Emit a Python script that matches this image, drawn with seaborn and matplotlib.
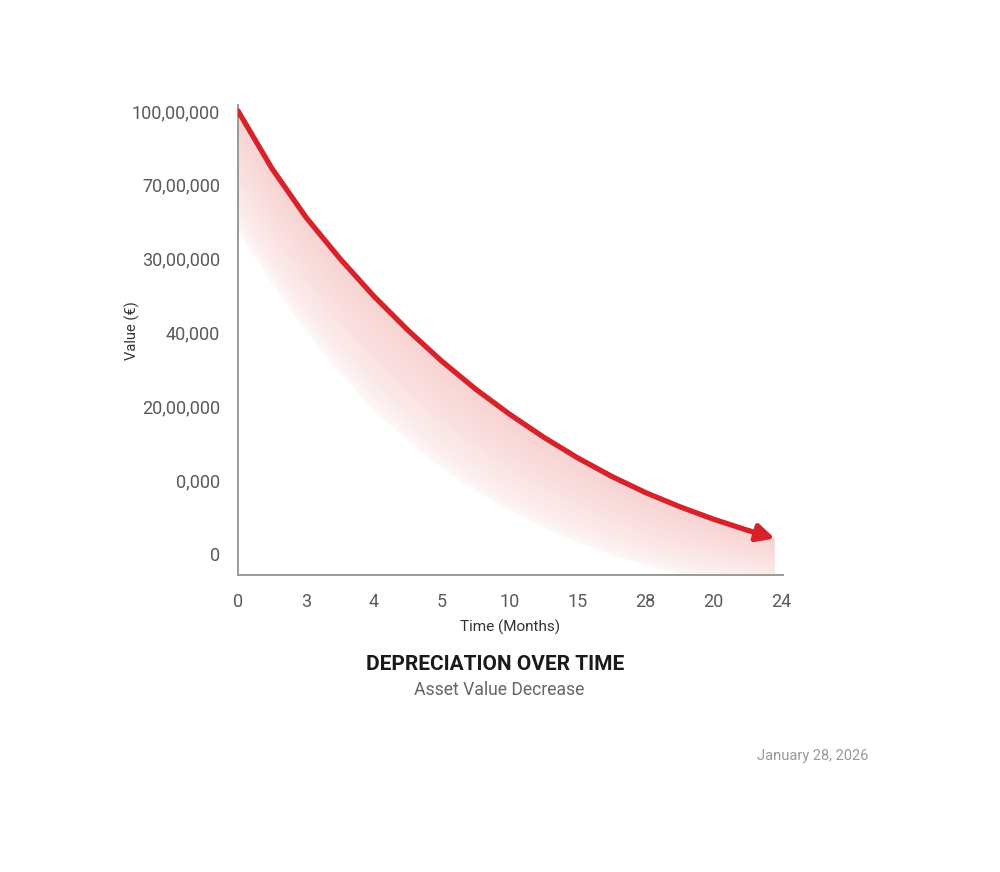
import numpy as np
import pandas as pd
import seaborn as sns
import matplotlib.pyplot as plt

# tick labels as printed on the chart (evenly spaced positions)
x_labels = ["0", "3", "4", "5", "10", "15", "28", "20", "24"]
y_labels = ["0", "0,000", "20,00,000", "40,000", "30,00,000", "70,00,000", "100,00,000"]

# curve, in tick-position units
time_pos = [0, 0.5, 1, 1.5, 2, 2.5, 3, 3.5, 4, 4.5, 5, 5.5, 6, 6.5, 7, 7.5, 7.9]
value_pos = [6.0, 5.22, 4.56, 4.00, 3.49, 3.03, 2.61, 2.23, 1.89, 1.58, 1.30, 1.05, 0.83, 0.64, 0.47, 0.32, 0.21]
band_low = [4.35, 3.65, 3.01, 2.44, 1.94, 1.52, 1.16, 0.85, 0.58, 0.35, 0.15, -0.02, -0.16, -0.27, -0.35, -0.41, -0.44]

df = pd.DataFrame({"t": time_pos, "v": value_pos, "lo": band_low})
red = "#d62228"

sns.set_theme(style="white")
plt.rcParams["font.family"] = ["Roboto", "DejaVu Sans"]

fig = plt.figure(figsize=(10, 8.72), dpi=100, facecolor="white")
ax = fig.add_axes([0.238, 0.3406, 0.545, 0.539])

# gradient band under the curve
band = ax.fill_between(df["t"], df["lo"], df["v"], color="none", lw=0)
gx = np.linspace(0, 7.9, 400)
gy = np.linspace(-0.5, 6.1, 400)
GX, GY = np.meshgrid(gx, gy)
up = np.interp(GX, df["t"], df["v"])
lo = np.interp(GX, df["t"], df["lo"])
frac = np.clip((GY - lo) / (up - lo), 0, 1)
rgba = np.zeros(GX.shape + (4,))
rgba[..., 0] = 0.88
rgba[..., 1] = 0.19
rgba[..., 2] = 0.19
rgba[..., 3] = 0.03 + 0.19 * frac ** 0.7
im = ax.imshow(rgba, extent=(0, 7.9, -0.5, 6.1), origin="lower", aspect="auto", zorder=1)
im.set_clip_path(band.get_paths()[0], transform=ax.transData)
im.set_clip_box(None)

# main curve with arrow at the end
sns.lineplot(data=df.iloc[:-1], x="t", y="v", color=red, lw=3.8, ax=ax, zorder=3,
             solid_capstyle="round", solid_joinstyle="round")
ax.annotate("", xy=(df["t"].iloc[-1], df["v"].iloc[-1]),
            xytext=(df["t"].iloc[-2], df["v"].iloc[-2]),
            arrowprops=dict(arrowstyle="-|>", color=red, lw=3.8, mutation_scale=26,
                            shrinkA=0, shrinkB=0), zorder=4)

ax.set_xlim(0, 8.02)
ax.set_ylim(-0.285, 6.08)
ax.set_xticks(range(len(x_labels)))
ax.set_xticklabels(x_labels)
ax.set_yticks(range(len(y_labels)))
ax.set_yticklabels(y_labels)

sns.despine(ax=ax)
for s in ["left", "bottom"]:
    ax.spines[s].set_color("#9a9a9a")
    ax.spines[s].set_linewidth(1.4)
ax.tick_params(axis="both", direction="out", length=5, width=1.2, color="#9a9a9a",
               labelcolor="#5a5a5a", labelsize=13)
ax.tick_params(axis="y", pad=8)
ax.tick_params(axis="x", pad=8)
ax.grid(False)

ax.set_xlabel("Time (Months)", fontsize=11, color="#333333")
ax.set_ylabel("Value (€)", fontsize=10.5, color="#333333")
ax.xaxis.set_label_coords(0.50, -0.094)
ax.yaxis.set_label_coords(-0.18, 0.52)

fig.text(0.495, 0.2385, "DEPRECIATION OVER TIME", ha="center", va="center",
         fontsize=15, fontweight="bold", color="#1a1a1a")
fig.text(0.499, 0.2087, "Asset Value Decrease", ha="center", va="center",
         fontsize=12.7, color="#666666")
fig.text(0.868, 0.133, "January 28, 2026", ha="right", va="center",
         fontsize=10.5, color="#999999")

fig.savefig("out.png", dpi=100, facecolor="white")
